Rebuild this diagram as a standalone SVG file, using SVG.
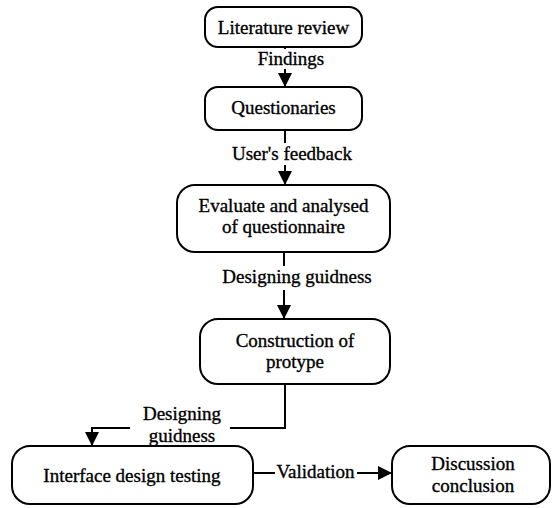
<svg xmlns="http://www.w3.org/2000/svg" width="552" height="508" viewBox="0 0 552 508" font-family="'Liberation Serif', 'DejaVu Serif', serif">
<style>
.node rect{fill:#fff;stroke:#000;stroke-width:2}
text{font-family:'Liberation Serif','DejaVu Serif',serif;font-size:19px;fill:#000;text-anchor:middle;stroke:#000;stroke-width:0.35}
.conn path{fill:none;stroke:#000;stroke-width:2}
.lbg{fill:#fff;stroke:none}
</style>
<defs>
<marker id="ah" markerUnits="userSpaceOnUse" markerWidth="14" markerHeight="14" viewBox="0 0 14 14" refX="14" refY="7" orient="auto">
<path d="M0,0 L14,7 L0,14 Z" fill="#000"/>
</marker>
</defs>
<rect width="552" height="508" fill="#fff"/>
<g id="connectors" class="conn">
<path d="M285 47 V87" marker-end="url(#ah)"/>
<path d="M285 130 V185" marker-end="url(#ah)"/>
<path d="M284 252 V319" marker-end="url(#ah)"/>
<path d="M285 384 V428 H92 V446" marker-end="url(#ah)"/>
<path d="M253 473 H392" marker-end="url(#ah)"/>
</g>
<g id="labels">
<rect class="lbg" x="250" y="49" width="80" height="20"/>
<text x="291" y="65">Findings</text>
<rect class="lbg" x="225" y="143" width="134" height="22"/>
<text x="292" y="160">User's feedback</text>
<rect class="lbg" x="216" y="266" width="162" height="24"/>
<text x="297" y="283">Designing guidness</text>
<rect class="lbg" x="130" y="402" width="100" height="43"/>
<text x="182" y="420">Designing</text>
<text x="182" y="442">guidness</text>
<rect class="lbg" x="275" y="460" width="82" height="22"/>
<text x="315.5" y="478">Validation</text>
</g>
<g id="n1" class="node">
<rect x="205" y="7" width="157" height="40" rx="13"/>
<text x="283.5" y="34">Literature review</text>
</g>
<g id="n2" class="node">
<rect x="205" y="87" width="157" height="43" rx="13"/>
<text x="283.5" y="114">Questionaries</text>
</g>
<g id="n3" class="node">
<rect x="177" y="185" width="213" height="67" rx="18"/>
<text x="283.5" y="212">Evaluate and analysed</text>
<text x="283.5" y="233">of questionnaire</text>
</g>
<g id="n4" class="node">
<rect x="200" y="319" width="190" height="65" rx="18"/>
<text x="295" y="347">Construction of</text>
<text x="295" y="368">protype</text>
</g>
<g id="n5" class="node">
<rect x="12" y="446" width="241" height="58" rx="18"/>
<text x="132" y="482">Interface design testing</text>
</g>
<g id="n6" class="node">
<rect x="392" y="446" width="158" height="58" rx="18"/>
<text x="473" y="470">Discussion</text>
<text x="473" y="492">conclusion</text>
</g>
</svg>
